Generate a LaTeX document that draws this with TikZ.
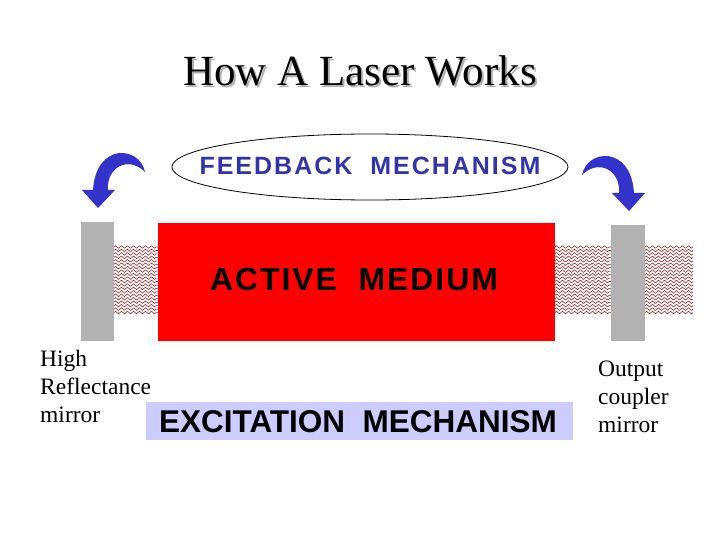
\documentclass[tikz,border=0pt]{standalone}
\usepackage{fontspec}
\setmainfont{Liberation Serif}
\newfontfamily\arialfont{Liberation Sans}
\newfontfamily\arialsp[LetterSpace=8]{Liberation Sans}
\newfontfamily\arialspb[LetterSpace=6]{Liberation Sans}
\usetikzlibrary{decorations.pathmorphing}
\definecolor{mirrorgray}{RGB}{178,178,178}
\definecolor{arrowblue}{RGB}{51,51,204}
\definecolor{textblue}{RGB}{52,52,168}
\definecolor{lavender}{RGB}{204,204,255}
\definecolor{hatchred}{RGB}{160,40,40}
\definecolor{shadowgray}{RGB}{176,176,176}
\tikzset{
  mirror/.style={fill=mirrorgray, draw=none},
  hatch/.style={draw=hatchred, line width=0.6pt, decorate,
    decoration={zigzag, segment length=6pt, amplitude=1.3pt}},
  bigarrow/.style={fill=arrowblue, draw=none},
  sidelabel/.style={anchor=base west, inner sep=0pt, font=\fontsize{23.5}{27}\selectfont},
}
\begin{document}
\begin{tikzpicture}[x=1pt, y=-1pt]
\useasboundingbox (0,0) rectangle (720,540);
% title with shadow
\node[inner sep=0pt, anchor=base, text=shadowgray, font=\fontsize{43}{48}\selectfont] (titleshadow) at (362,88) {How A Laser Works};
\node[inner sep=0pt, anchor=base, font=\fontsize{43}{48}\selectfont] (title) at (360,86) {How A Laser Works};
% feedback ellipse
\draw[line width=0.8pt] (370,167) ellipse [x radius=198, y radius=33];
\node[inner sep=0pt, anchor=base, text=textblue, font=\arialsp\bfseries\fontsize{25}{30}\selectfont] (feedback) at (370,175) {FEEDBACK\ \ MECHANISM};
% curved arrows
\fill[bigarrow] (145,172) .. controls (140,146) and (96,142) .. (93,190) -- (82,190) -- (98,208) -- (115,190) -- (108,190) .. controls (106,168) and (128,155) .. (145,172) -- cycle;
\begin{scope}[shift={(727,3)}, xscale=-1]
\fill[bigarrow] (145,172) .. controls (140,146) and (96,142) .. (93,190) -- (82,190) -- (98,208) -- (115,190) -- (108,190) .. controls (106,168) and (128,155) .. (145,172) -- cycle;
\end{scope}
% hatched beam regions
\foreach \yy in {247,250.45,...,314} {
  \draw[hatch] (114,\yy) -- (158,\yy);
  \draw[hatch] (555,\yy) -- (611,\yy);
  \draw[hatch] (645,\yy) -- (693,\yy);
}
% mirrors
\fill[mirror] (81,222) rectangle (114,341);
\fill[mirror] (611,225) rectangle (645,341);
% active medium
\fill[red] (158,223) rectangle (555,341);
\node[inner sep=0pt, anchor=base, font=\arialspb\bfseries\fontsize{32}{36}\selectfont] (active) at (354,290) {ACTIVE\ \ MEDIUM};
% excitation
\fill[lavender] (146,402) rectangle (573,440);
\node[inner sep=0pt, anchor=base, font=\arialfont\bfseries\fontsize{31.5}{36}\selectfont] (excite) at (358,432) {EXCITATION\ \ MECHANISM};
% side labels
\node[sidelabel] (high) at (40,366) {High};
\node[sidelabel] (refl) at (40,394) {Reflectance};
\node[sidelabel] (mirl) at (40,422) {mirror};
\node[sidelabel] (outp) at (598,376) {Output};
\node[sidelabel] (coup) at (598,404) {coupler};
\node[sidelabel] (mirr) at (598,432) {mirror};
\end{tikzpicture}
\end{document}
